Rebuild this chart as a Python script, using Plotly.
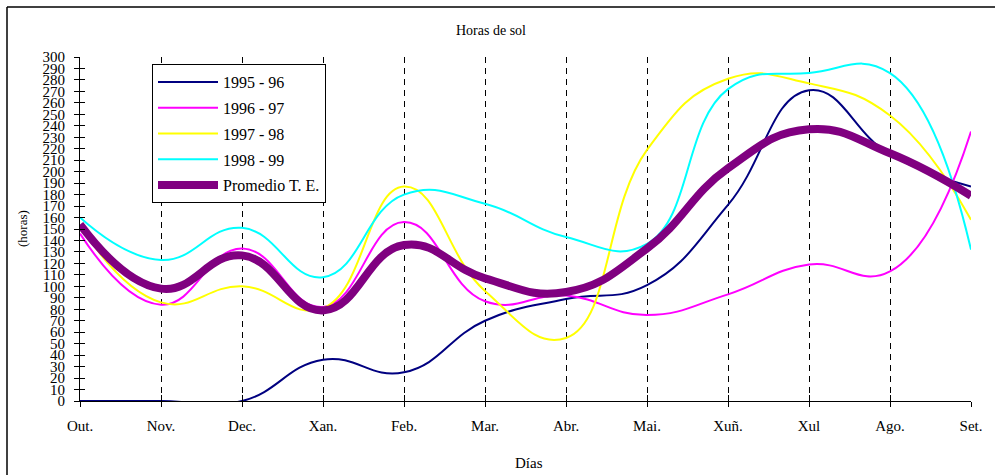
import plotly.graph_objects as go

months = ["Out.", "Nov.", "Dec.", "Xan.", "Feb.", "Mar.", "Abr.", "Mai.", "Xuñ.", "Xul", "Ago.", "Set."]

s1995_96 = [0, 0, 0, 36, 25, 70, 89, 101, 171, 271, 215, 187]
s1996_97 = [146, 84, 133, 82, 156, 87, 92, 75, 93, 119, 113, 235]
s1997_98 = [153, 86, 100, 81, 187, 96, 55, 219, 281, 277, 249, 158]
s1998_99 = [160, 123, 151, 108, 180, 172, 143, 137, 272, 286, 286, 132]
promedio = [154, 98, 127, 79, 136, 107, 95, 133, 203, 237, 216, 179]

series = [
    ("1995 - 96", s1995_96, "#000080", 2),
    ("1996 - 97", s1996_97, "#FF00FF", 2),
    ("1997 - 98", s1997_98, "#FFFF00", 2),
    ("1998 - 99", s1998_99, "#00FFFF", 2),
    ("Promedio T. E.", promedio, "#800080", 8),
]

FONT = "Liberation Serif, Times New Roman, serif"

fig = go.Figure()
for i, (name, vals, color, w) in enumerate(series):
    fig.add_trace(go.Scatter(
        x=months, y=vals, name=name, mode="lines",
        line=dict(color=color, width=w, shape="spline", smoothing=1.3),
        legendgroup=f"g{i}", hoverinfo="skip",
    ))

# invisible trace to carry the inside-tick overlay axes
fig.add_trace(go.Scatter(x=months, y=promedio, xaxis="x2", yaxis="y2", mode="lines",
                         line=dict(color="rgba(0,0,0,0)", width=0), showlegend=False, hoverinfo="skip"))

axis_common = dict(showline=True, linecolor="black", linewidth=1, zeroline=False,
                   tickcolor="black", tickwidth=1, ticklen=5, automargin=False)

L, T, PW, PH = 80, 57, 891, 344

def px(xp):
    return (xp - L) / PW

def py(yp):
    return (T + PH - yp) / PH

fig.update_layout(
    width=995, height=475,
    margin=dict(l=L, r=995 - L - PW, t=T, b=475 - T - PH),
    paper_bgcolor="white", plot_bgcolor="white",
    font=dict(family=FONT, color="black"),
    title=dict(text="Horas de sol", x=px(491), xref="paper", xanchor="center",
               y=1 - 30 / 475, yanchor="middle", font=dict(family=FONT, size=14, color="black")),
    xaxis=dict(type="category", range=[0, 11], ticks="outside",
               showgrid=True, gridcolor="black", gridwidth=1, griddash="6px,5px",
               ticklabelstandoff=6, tickfont=dict(family=FONT, size=15, color="black"),
               **axis_common),
    yaxis=dict(range=[0, 300], dtick=10, tick0=0, ticks="outside", showgrid=False,
               ticklabelstandoff=6, tickfont=dict(family=FONT, size=15, color="black"),
               **axis_common),
    xaxis2=dict(type="category", range=[0, 11], overlaying="x", ticks="inside", ticklen=6,
                tickcolor="black", showticklabels=False, showgrid=False, showline=False,
                zeroline=False, anchor="y", automargin=False),
    yaxis2=dict(range=[0, 300], dtick=10, tick0=0, overlaying="y", ticks="inside", ticklen=5,
                tickcolor="black", showticklabels=False, showgrid=False, showline=False,
                zeroline=False, anchor="x", side="left", automargin=False),
    legend=dict(x=px(152), y=py(64), xanchor="left", yanchor="top",
                bgcolor="white", bordercolor="black", borderwidth=1,
                font=dict(family=FONT, size=16, color="black"), tracegroupgap=2,
                itemwidth=60),
    annotations=[
        dict(text="(horas)", xref="paper", yref="paper", x=px(22), y=0.5, textangle=-90,
             showarrow=False, xanchor="center", yanchor="middle",
             font=dict(family=FONT, size=13, color="black")),
        dict(text="Días", xref="paper", yref="paper", x=px(529), y=py(463),
             showarrow=False, xanchor="center", yanchor="middle",
             font=dict(family=FONT, size=15, color="black")),
    ],
    shapes=[
        dict(type="line", xref="paper", yref="paper", x0=px(7), x1=px(995), y0=py(7), y1=py(7),
             line=dict(color="black", width=1.5), layer="below"),
        dict(type="line", xref="paper", yref="paper", x0=px(7), x1=px(7), y0=py(7), y1=py(475),
             line=dict(color="black", width=1.5), layer="below"),
    ],
    showlegend=True,
)

fig.write_html("out.html", config={"displayModeBar": False},
               post_script="document.body.style.margin='0';document.body.style.overflow='hidden';")
